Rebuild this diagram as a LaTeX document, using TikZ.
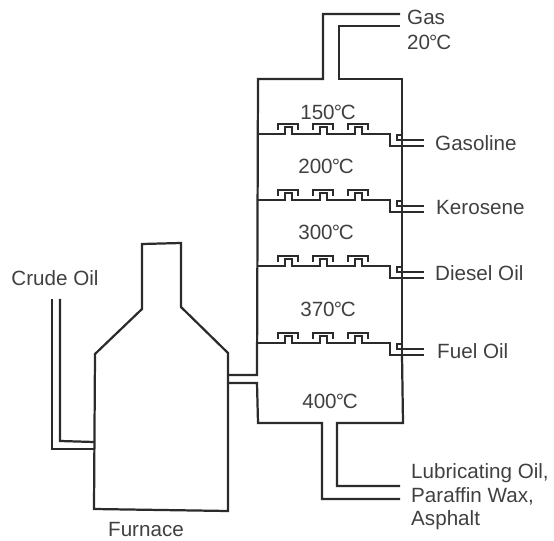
\documentclass[tikz,border=0pt]{standalone}
\usepackage{fontspec}
\setmainfont{Liberation Sans}
\definecolor{PipeGray}{HTML}{2B2B2B}
\definecolor{LabelGray}{HTML}{404040}
\newcommand{\degc}{\kern-0.8pt°\kern-1pt C}
\tikzset{
  pipe/.style={PipeGray,line width=1.9pt,line join=miter},
  thinpipe/.style={PipeGray,line width=1.5pt,line join=miter},
  lbl/.style={LabelGray,inner sep=0pt,font=\fontsize{17.6}{20}\selectfont},
  outlbl/.style={lbl,anchor=west,align=left}
}
\begin{document}
\begin{tikzpicture}[x=0.03cm,y=-0.03cm]
\useasboundingbox (0,0) rectangle (554,541);
% furnace
\draw[pipe] (94,509) -- (228,511) -- (228,353) -- (181,307) -- (181,243) -- (142,244) -- (142,309) -- (95,354) -- cycle;
\draw[pipe] (52,299) -- (52,449) -- (94,449);
\draw[pipe] (60,299) -- (60,441) -- (94,442);
\node[lbl] (crude) at (55,278) {Crude Oil};
\node[lbl] (furnace) at (146,530) {Furnace};
% column
\draw[pipe] (228,375) -- (257,375) -- (258,79) -- (323,79) -- (323,14) -- (400,14);
\draw[pipe] (400,26) -- (339,26) -- (339,79) -- (402,79) -- (402,146);
\draw[pipe] (228,383) -- (257,383) -- (258,423) -- (322,423) -- (322,499) -- (400,499);
\draw[pipe] (400,486) -- (337,486) -- (337,423) -- (403,423) -- (402,355);
\draw[pipe] (402,146) -- (402,355);
% trays
\foreach \y in {134,200,266,343} {
  \draw[thinpipe] (258,\y) -- (285,\y) -- (285,\y-7) -- (292,\y-7) -- (292,\y)
    -- (320,\y) -- (320,\y-7) -- (327,\y-7) -- (327,\y)
    -- (355,\y) -- (355,\y-7) -- (362,\y-7) -- (362,\y)
    -- (390,\y) -- (390,\y+12) -- (424,\y+12);
  \draw[thinpipe] (402,\y+1) -- (397,\y+1) -- (397,\y+6) -- (424,\y+6);
  \foreach \x in {278,313,348}
    \draw[thinpipe] (\x,\y-4) -- (\x,\y-10) -- (\x+20,\y-10) -- (\x+20,\y-4);
}
\node[lbl] (t150) at (328,112) {150\degc};
\node[lbl] (t200) at (326,166) {200\degc};
\node[lbl] (t300) at (326,232) {300\degc};
\node[lbl] (t370) at (328,309) {370\degc};
\node[lbl] (t400) at (330,401) {400\degc};
\node[outlbl] (gas) at (407,30) {Gas\\[2pt]20\degc};
\node[outlbl] (gasoline) at (435,143) {Gasoline};
\node[outlbl] (kerosene) at (436,208) {Kerosene};
\node[outlbl] (diesel) at (435,273) {Diesel Oil};
\node[outlbl] (fuel) at (437,351) {Fuel Oil};
\node[outlbl] (residue) at (411,497) {Lubricating Oil,\\Paraffin Wax,\\Asphalt};
\end{tikzpicture}
\end{document}
